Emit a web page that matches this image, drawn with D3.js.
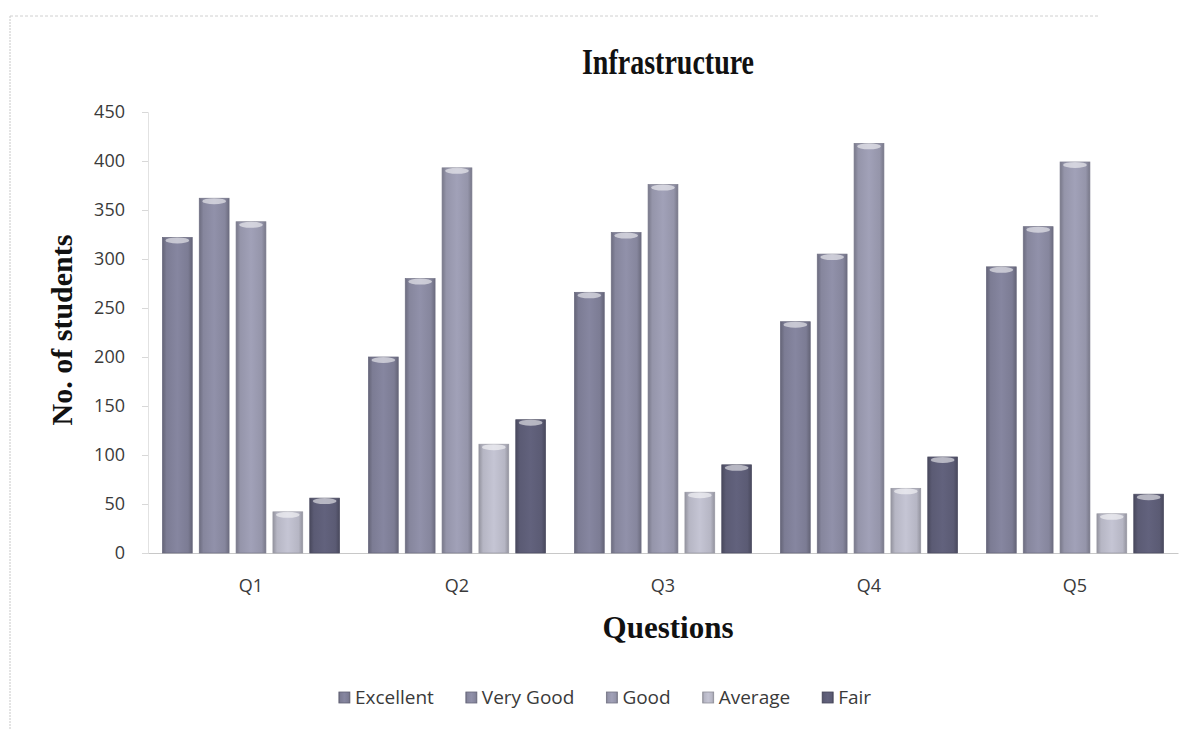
<!DOCTYPE html>
<html>
<head>
<meta charset="utf-8">
<script src="https://cdn.jsdelivr.net/npm/d3@7"></script>
<style>
  html, body { margin: 0; padding: 0; background: #fff; }
  svg { display: block; }
</style>
</head>
<body>
<svg id="chart" width="1200" height="729"></svg>
<script>
// ---- data ----
const categories = ["Q1", "Q2", "Q3", "Q4", "Q5"];
const seriesNames = ["Excellent", "Very Good", "Good", "Average", "Fair"];
const excellent = [322, 200, 266, 236, 292];
const veryGood  = [362, 280, 327, 305, 333];
const good      = [338, 393, 376, 418, 399];
const average   = [42, 111, 62, 66, 40];
const fair      = [56, 136, 90, 98, 60];
const yTicks = [0, 50, 100, 150, 200, 250, 300, 350, 400, 450];
const titleText = "Infrastructure";
const xTitle = "Questions";
const yTitle = "No. of students";

const seriesValues = [excellent, veryGood, good, average, fair];
const baseColors = ["#808099", "#8b8ba3", "#9a9ab0", "#bdbdcb", "#5e5e78"];

// ---- layout ----
const svg = d3.select("#chart");
const plotLeft = 148, plotRight = 1178, plotTop = 112, plotBottom = 553;

const x0 = d3.scaleBand().domain(categories).range([plotLeft, plotRight])
  .paddingInner(0.14).paddingOuter(0.07);
const x1 = d3.scaleBand().domain(seriesNames).range([0, x0.bandwidth()])
  .paddingInner(0.19).paddingOuter(0);
const y = d3.scaleLinear().domain([0, 450]).range([plotBottom, plotTop]);

// gradients
const defs = svg.append("defs");
seriesNames.forEach((s, i) => {
  const c = d3.color(baseColors[i]);
  const g = defs.append("linearGradient").attr("id", "g" + i)
    .attr("x1", "0%").attr("x2", "100%").attr("y1", "0%").attr("y2", "0%");
  g.append("stop").attr("offset", "0%").attr("stop-color", c.darker(0.7));
  g.append("stop").attr("offset", "14%").attr("stop-color", c.darker(0.1));
  g.append("stop").attr("offset", "50%").attr("stop-color", c.brighter(0.12));
  g.append("stop").attr("offset", "86%").attr("stop-color", c.darker(0.1));
  g.append("stop").attr("offset", "100%").attr("stop-color", c.darker(0.7));
});

// chart border (faint)
svg.append("line").attr("x1", 10).attr("x2", 10).attr("y1", 16).attr("y2", 729)
  .attr("stroke", "#c8c8c8").attr("stroke-width", 1).attr("stroke-dasharray", "2,1");
svg.append("line").attr("x1", 10).attr("x2", 1100).attr("y1", 16).attr("y2", 16)
  .attr("stroke", "#d0d0d0").attr("stroke-width", 1).attr("stroke-dasharray", "3,2");

// title (slightly condensed bold serif)
svg.append("text").attr("transform", "translate(668,74) scale(0.8,1)")
  .attr("text-anchor", "middle")
  .attr("font-family", "Liberation Serif, serif").attr("font-weight", "bold")
  .attr("font-size", 35).attr("fill", "#111").text(titleText);

// y axis
const yAxis = d3.axisLeft(y).tickValues(yTicks).tickSize(6).tickPadding(17);
const gy = svg.append("g").attr("transform", `translate(${plotLeft},0)`).call(yAxis);
gy.select(".domain").attr("stroke", "#e2e2e2");
gy.selectAll(".tick line").attr("stroke", "#d8d8d8");
gy.selectAll("text").attr("font-family", "Open Sans, sans-serif").attr("font-size", 18)
  .attr("fill", "#3a3a3a");

// x axis
const xAxis = d3.axisBottom(x0).tickSize(0).tickPadding(26);
const gx = svg.append("g").attr("transform", `translate(0,${plotBottom})`).call(xAxis);
gx.select(".domain").attr("stroke", "#c8c8c8");
gx.selectAll("text").attr("font-family", "Open Sans, sans-serif").attr("font-size", 18)
  .attr("fill", "#3a3a3a");

// bars
const groups = svg.append("g").selectAll("g").data(categories).join("g")
  .attr("transform", d => `translate(${x0(d)},0)`);
groups.selectAll("rect.bar")
  .data((d, ci) => seriesNames.map((s, si) => ({ s, si, v: seriesValues[si][ci] })))
  .join("rect").attr("class", "bar")
  .attr("x", d => x1(d.s)).attr("width", x1.bandwidth())
  .attr("y", d => y(d.v)).attr("height", d => y(0) - y(d.v))
  .attr("fill", d => `url(#g${d.si})`)
  .attr("stroke", d => d3.color(baseColors[d.si]).darker(0.6))
  .attr("stroke-width", 0.7);
// bevel highlight at bar tops
groups.selectAll("ellipse.cap")
  .data((d, ci) => seriesNames.map((s, si) => ({ s, si, v: seriesValues[si][ci] })))
  .join("ellipse").attr("class", "cap")
  .attr("cx", d => x1(d.s) + x1.bandwidth() / 2)
  .attr("cy", d => y(d.v) + 3)
  .attr("rx", x1.bandwidth() / 2 - 3).attr("ry", 3)
  .attr("fill", "#ffffff").attr("opacity", 0.55);

// axis titles
svg.append("text").attr("x", 668).attr("y", 638).attr("text-anchor", "middle")
  .attr("font-family", "Liberation Serif, serif").attr("font-weight", "bold")
  .attr("font-size", 31).attr("fill", "#111").text(xTitle);
svg.append("text").attr("transform", "translate(72,330) rotate(-90)")
  .attr("text-anchor", "middle")
  .attr("font-family", "Liberation Serif, serif").attr("font-weight", "bold")
  .attr("font-size", 30).attr("fill", "#111").text(yTitle);

// legend
const legendData = seriesNames.map((s, i) => ({ s, i }));
const legend = svg.append("g");
let lx = 0;
const itemGap = 32;
legendData.forEach(d => {
  const g = legend.append("g").attr("transform", `translate(${lx},0)`);
  g.append("rect").attr("x", 0).attr("y", -12).attr("width", 11).attr("height", 11)
    .attr("fill", `url(#g${d.i})`).attr("stroke", d3.color(baseColors[d.i]).darker(0.8))
    .attr("stroke-width", 0.8);
  const t = g.append("text").attr("x", 16).attr("y", 0)
    .attr("font-family", "Open Sans, sans-serif").attr("font-size", 19)
    .attr("fill", "#3a3a3a").text(d.s);
  lx += 16 + t.node().getComputedTextLength() + itemGap;
});
const legendWidth = lx - itemGap;
legend.attr("transform", `translate(${605 - legendWidth / 2},704)`);
</script>
</body>
</html>
